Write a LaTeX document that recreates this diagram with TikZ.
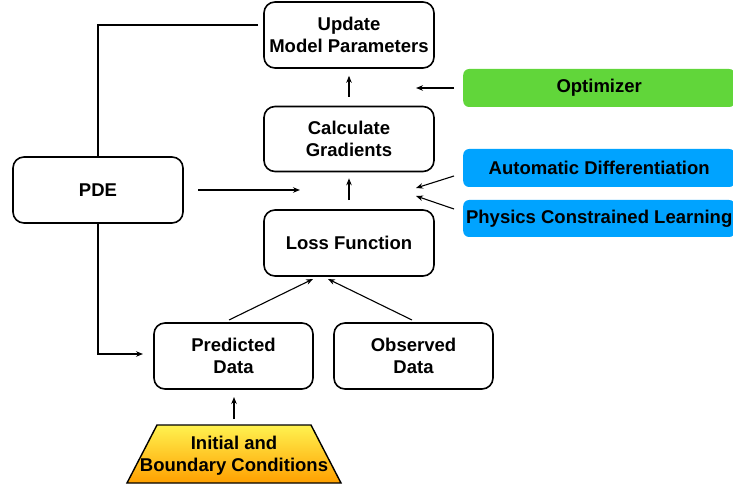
\documentclass[tikz,border=0pt]{standalone}
\usepackage{fontspec}
\setmainfont{Liberation Sans}
\usetikzlibrary{arrows.meta,calc}
\definecolor{optgreen}{RGB}{97,214,58}
\definecolor{adblue}{RGB}{0,163,255}
\definecolor{ibctop}{RGB}{255,242,80}
\definecolor{ibcbot}{RGB}{255,160,0}
\tikzset{
  txt/.style={font=\bfseries\fontsize{18.5}{21.7}\selectfont},
  box/.style={txt, draw=black, line width=1.6pt, rounded corners=11pt, align=center,
    minimum width=170pt, minimum height=66pt, inner sep=0pt},
  tag/.style={txt, rounded corners=6pt, minimum height=38pt, minimum width=272pt, inner sep=0pt},
  arr/.style={-{Stealth[length=7pt,width=5.5pt]}, line width=1.1pt},
  ln/.style={line width=1.1pt}
}
\begin{document}
\begin{tikzpicture}[x=1pt,y=-1pt]
\useasboundingbox (0,0) rectangle (733,486);
\clip (0,0) rectangle (733,486);
% main boxes
\node[box] (update) at (349,35) {Update\\Model Parameters};
\node[box, minimum height=65pt] (calc) at (349,139) {Calculate\\Gradients};
\node[box] (loss) at (349,243) {Loss Function};
\node[box] (pde) at (98,190) {PDE};
\node[box, minimum width=159pt] (pred) at (233.5,356) {Predicted\\Data};
\node[box, minimum width=159pt] (obs) at (413.5,356) {Observed\\Data};
% coloured tags
\node[tag, fill=optgreen, anchor=west] (opt) at (463,88) {Optimizer};
\node[tag, fill=adblue, anchor=west] (ad) at (463,168) {Automatic Differentiation};
\node[tag, fill=adblue, anchor=west, minimum height=37pt] (pcl) at (463,218.5) {Physics Constrained Learning};
% trapezoid
\shade[top color=ibctop, bottom color=ibcbot, draw=black, line width=1.4pt]
  (157,425) -- (311,425) -- (341,483) -- (127,483) -- cycle;
\node[txt, align=center, inner sep=0pt] (ibc) at (234,456) {Initial and\\Boundary Conditions};
% free-end coordinates
\coordinate (pdeend) at (300,190);
\coordinate (optend) at (416,88);
\coordinate (adend) at (416,188);
\coordinate (pclend) at (416,196);
\coordinate (adstart) at (454,176);
\coordinate (pclstart) at (454,209);
\coordinate (optstart) at (454,88);
\coordinate (pdestart) at (198,190);
\coordinate (predtop) at (229,320);
\coordinate (obstop) at (412,320);
\coordinate (lossin1) at (313,279);
\coordinate (lossin2) at (328,279);
\coordinate (ibctopc) at (234,419);
\coordinate (predbot) at (234,397);
\coordinate (pdecorner) at (98,354);
\coordinate (predin) at (143,354);
\coordinate (updleft) at (258,25);
\coordinate (updcorner) at (98,25);
% connectors
\draw[ln] (updleft) -- (updcorner) -- (pde.north);
\draw[arr] (pde.south) -- (pdecorner) -- (predin);
\draw[arr] (pdestart) -- (pdeend);
\draw[arr] ([yshift=9pt]loss.north) -- ([yshift=-6pt]calc.south);
\draw[arr] ([yshift=9pt]calc.north) -- ([yshift=-7pt]update.south);
\draw[arr] (optstart) -- (optend);
\draw[arr] (adstart) -- (adend);
\draw[arr] (pclstart) -- (pclend);
\draw[arr] (predtop) -- (lossin1);
\draw[arr] (obstop) -- (lossin2);
\draw[arr] (ibctopc) -- (predbot);
\end{tikzpicture}
\end{document}
